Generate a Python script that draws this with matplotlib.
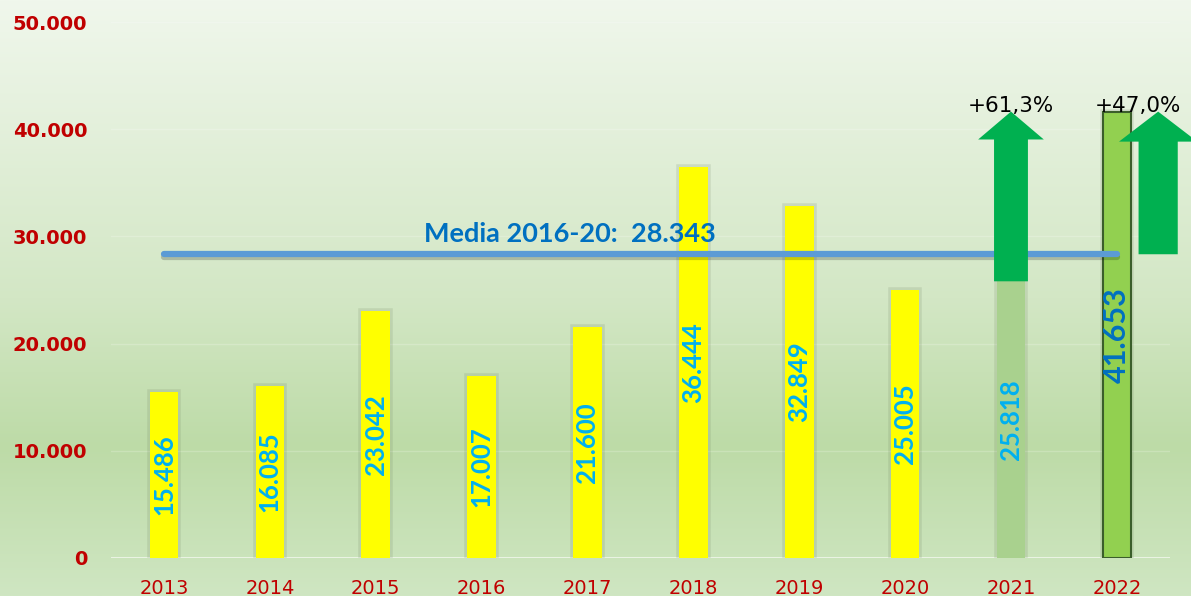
import numpy as np
import matplotlib.pyplot as plt
from matplotlib import patheffects as pe
from matplotlib.patches import FancyArrow
from matplotlib.colors import LinearSegmentedColormap

anni = ['2013', '2014', '2015', '2016', '2017', '2018', '2019', '2020', '2021', '2022']
valori = [15486, 16085, 23042, 17007, 21600, 36444, 32849, 25005, 25818, 41653]
media = 28343
yticks = [0, 10000, 20000, 30000, 40000, 50000]


def fmt(v):
    # separatore migliaia col punto
    return '{:,}'.format(v).replace(',', '.')


fig = plt.figure(figsize=(11.91, 5.96), dpi=100)

# sfondo sfumato
bg = fig.add_axes([0, 0, 1, 1], zorder=-10)
cmap = LinearSegmentedColormap.from_list(
    'sfondo', [(0, '#f0f7ec'), (0.5, '#d3e7c5'), (0.75, '#bddba7'), (1, '#cfe6c2')])
bg.imshow(np.linspace(0, 1, 256).reshape(-1, 1), aspect='auto', cmap=cmap,
          extent=[0, 1, 0, 1], origin='upper')
bg.axis('off')

ax = fig.add_axes([0.0932, 0.0638, 0.889, 0.899])
ax.patch.set_alpha(0)
x = np.arange(len(anni))

colori = ['#ffff00'] * 8 + ['#a9d18e', '#92d050']
bordi = ['none'] * 9 + ['#3b5e2b']
ombra = [pe.Stroke(linewidth=4, foreground='#5f6f50', alpha=0.15), pe.Normal()]
barre = ax.bar(x, valori, width=0.27, color=colori, edgecolor=bordi, linewidth=1.5, zorder=3)
for b in barre:
    b.set_path_effects(ombra)

# etichette verticali nelle barre
for i, v in enumerate(valori):
    if i == 9:
        ax.text(i, v / 2, fmt(v), rotation=90, ha='center', va='center', color='#0070c0',
                fontsize=22, fontweight='bold', family=['Lato', 'DejaVu Sans'], zorder=6)
    else:
        ax.text(i, v / 2, fmt(v), rotation=90, ha='center', va='center', color='#00b0f0',
                fontsize=18.5, fontweight='bold', family=['Lato', 'DejaVu Sans'], zorder=6)

# linea della media
ax.plot([x[0], x[-1]], [media, media], color='#5b9bd5', lw=4.5, solid_capstyle='round', zorder=4,
        path_effects=[pe.SimpleLineShadow(offset=(0, -2), alpha=0.2), pe.Normal()])
ax.text(3.83, media + 800, 'Media 2016-20:  ' + fmt(media), ha='center', va='bottom',
        color='#0070c0', fontsize=19.5, fontweight='bold', family=['Lato', 'DejaVu Sans'], zorder=6)

# frecce di crescita
verde = '#00b050'
a1 = FancyArrow(8, valori[8], 0, valori[9] - valori[8], width=0.32, head_width=0.62,
                head_length=2600, length_includes_head=True, color=verde, lw=0, zorder=5)
a2 = FancyArrow(9.39, media, 0, valori[9] - media, width=0.37, head_width=0.74,
                head_length=2800, length_includes_head=True, color=verde, lw=0, zorder=5, clip_on=False)
ax.add_patch(a1)
ax.add_patch(a2)

p1 = (valori[9] / valori[8] - 1) * 100
p2 = (valori[9] / media - 1) * 100
ax.annotate('+{:.1f}%'.format(p1).replace('.', ','), xy=(8, valori[9]), xytext=(0, 0),
            textcoords='offset points', ha='center', va='baseline', fontsize=15.5, color='black', zorder=7)
ax.annotate('+{:.1f}%'.format(p2).replace('.', ','), xy=(9.2, valori[9]), xytext=(0, 0),
            textcoords='offset points', ha='center', va='baseline', fontsize=15.5, color='black',
            zorder=7, annotation_clip=False)

# assi
ax.set_xlim(-0.5, 9.5)
ax.set_ylim(0, 50000)
ax.set_xticks(x)
ax.set_xticklabels(anni)
ax.set_yticks(yticks)
ax.set_yticklabels([fmt(t) for t in yticks])
for s in ax.spines.values():
    s.set_visible(False)
ax.axhline(0, color='#eef5e8', lw=2, zorder=2)
ax.grid(axis='y', color='white', alpha=0.2, lw=1)
ax.set_axisbelow(True)
ax.tick_params(axis='y', length=0, pad=17, labelsize=14, labelcolor='#c00000')
ax.tick_params(axis='x', length=0, pad=15, labelsize=14, labelcolor='#c00000')
for t in ax.get_yticklabels():
    t.set_fontweight('bold')

fig.savefig('out.png', dpi=100)
